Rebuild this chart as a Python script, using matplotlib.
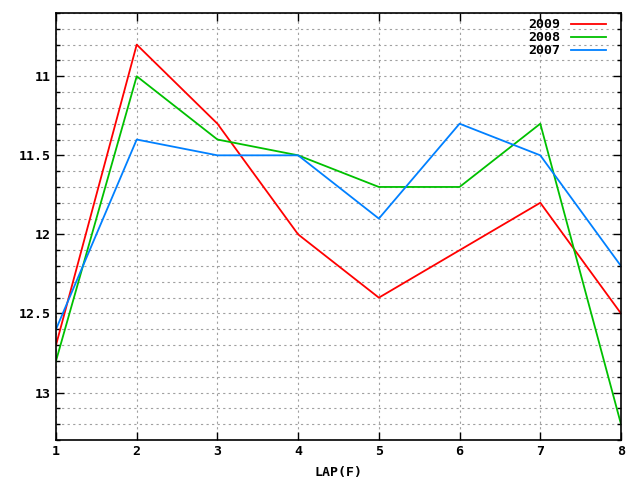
import matplotlib
matplotlib.use("Agg")
import matplotlib.pyplot as plt
from matplotlib.ticker import MultipleLocator, FuncFormatter

laps = [1, 2, 3, 4, 5, 6, 7, 8]
times_2009 = [12.7, 10.8, 11.3, 12.0, 12.4, 12.1, 11.8, 12.5]
times_2008 = [12.8, 11.0, 11.4, 11.5, 11.7, 11.7, 11.3, 13.2]
times_2007 = [12.6, 11.4, 11.5, 11.5, 11.9, 11.3, 11.5, 12.2]

plt.rcParams['font.family'] = ['DejaVu Sans Mono']
plt.rcParams['font.weight'] = 'bold'

fig = plt.figure(figsize=(6.4, 4.8), dpi=100)
ax = fig.add_axes([56 / 640, 40 / 480, 565 / 640, 427 / 480])

ax.plot(laps, times_2009, color='#ff0000', lw=1.3, label='2009')
ax.plot(laps, times_2008, color='#00c000', lw=1.3, label='2008')
ax.plot(laps, times_2007, color='#0080ff', lw=1.3, label='2007')

ax.set_xlim(1, 8)
ax.set_ylim(13.3, 10.6)
ax.xaxis.set_major_locator(MultipleLocator(1))
ax.yaxis.set_major_locator(MultipleLocator(0.5))
ax.yaxis.set_minor_locator(MultipleLocator(0.1))
ax.yaxis.set_major_formatter(FuncFormatter(lambda v, p: '%g' % v))

ax.grid(True, which='major', axis='x', color='#a0a0a0', ls=(0, (2, 3)), lw=0.8)
ax.grid(True, which='both', axis='y', color='#a0a0a0', ls=(0, (2, 3)), lw=0.8)

ax.tick_params(which='both', direction='in', top=True, right=True, labelsize=9.5, width=1)
ax.tick_params(which='major', length=6)
ax.tick_params(which='minor', length=3)
for s in ax.spines.values():
    s.set_linewidth(1.2)

ax.set_xlabel('LAP(F)', fontsize=9.5, fontweight='bold', labelpad=6)

ax.legend(loc='upper right', bbox_to_anchor=(0.982, 1.0), frameon=False,
          markerfirst=False, fontsize=9.5,
          handlelength=2.6, handletextpad=0.8, labelspacing=0.0,
          borderaxespad=0.1, borderpad=0.3)

fig.savefig('out.png', dpi=100)
